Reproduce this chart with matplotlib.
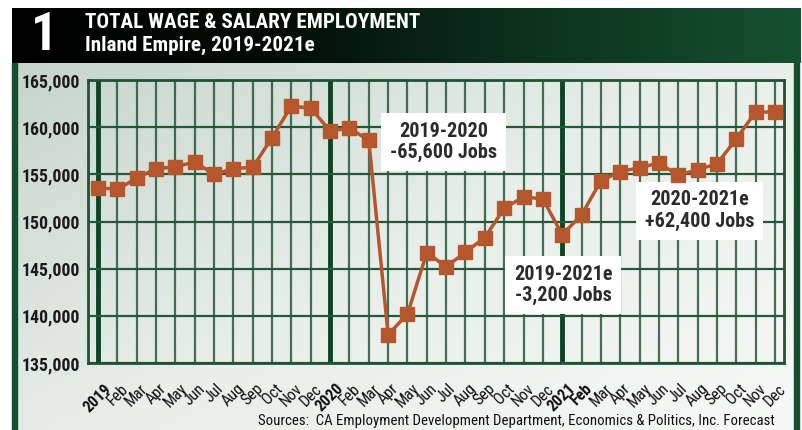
import numpy as np
import matplotlib
matplotlib.use("Agg")
import matplotlib.pyplot as plt
from matplotlib.patches import Rectangle
from matplotlib.colors import LinearSegmentedColormap
from matplotlib import font_manager

# ---- data ----
month_labels = ["2019", "Feb", "Mar", "Apr", "May", "Jun", "Jul", "Aug", "Sep", "Oct", "Nov", "Dec",
                "2020", "Feb", "Mar", "Apr", "May", "Jun", "Jul", "Aug", "Sep", "Oct", "Nov", "Dec",
                "2021", "Feb", "Mar", "Apr", "May", "Jun", "Jul", "Aug", "Sep", "Oct", "Nov", "Dec"]
bold_labels = {0, 12, 24, 25}
employment = [153600, 153400, 154600, 155600, 155800, 156300, 155000, 155600, 155750, 158900, 162250, 162000,
              159600, 159900, 158600, 138000, 140200, 146700, 145200, 146750, 148300, 151400, 152600, 152400,
              148600, 150700, 154300, 155300, 155700, 156200, 154900, 155500, 156100, 158750, 161600, 161600]
y_ticks = [135000, 140000, 145000, 150000, 155000, 160000, 165000]
title_num = "1"
title_line1 = "TOTAL WAGE & SALARY EMPLOYMENT"
title_line2 = "Inland Empire, 2019-2021e"
source_text = "Sources:  CA Employment Development Department, Economics & Politics, Inc. Forecast"
annotations = [("2019-2020\n-65,600 Jobs", 17.85, 158450),
               ("2019-2021e\n-3,200 Jobs", 24.05, 143300),
               ("2020-2021e\n+62,400 Jobs", 31.1, 151150)]

available = {f.name for f in font_manager.fontManager.ttflist}
cands = ["Roboto Condensed", "Liberation Sans Narrow", "Open Sans Condensed", "Noto Sans Condensed"]
narrow = [c for c in cands if c in available]
if narrow:
    NARROW = [narrow[0], "DejaVu Sans"]
    SCALE = 1.0
else:
    NARROW = ["Liberation Sans", "DejaVu Sans"]
    SCALE = 0.88

W, H = 802, 430
fig = plt.figure(figsize=(W / 100, H / 100), dpi=100)

# ---- background ----
bg = fig.add_axes([0, 0, 1, 1])
bg.set_xlim(0, W)
bg.set_ylim(H, 0)
bg.axis("off")
bg.add_patch(Rectangle((0, 0), W, H, color="white", zorder=0))
yy, xx = np.mgrid[0:100, 0:200]
grad = (xx / 199.0) * 0.55 + (yy / 99.0) * 0.45
body_cmap = LinearSegmentedColormap.from_list("body", ["#c6d5cb", "#e8eeea", "#f7f8f7"])
bg.imshow(grad, cmap=body_cmap, extent=(12, 799, 430, 63), aspect="auto", zorder=1)
hg = np.linspace(0, 1, 300)[None, :]
head_cmap = LinearSegmentedColormap.from_list("head", ["#000000", "#030d07", "#0c331c", "#14502e"])
bg.imshow(hg, cmap=head_cmap, extent=(12, 801, 63, 8), aspect="auto", zorder=2)
bg.add_patch(Rectangle((12, 63), 5, 367, color="#14502d", zorder=3))
bg.add_patch(Rectangle((794, 63), 5, 367, color="#14502d", zorder=3))
bg.text(44, 36, title_num, color="white", fontsize=38 * SCALE, fontweight="bold", family=NARROW,
        ha="center", va="center", zorder=4)
bg.text(85, 23, title_line1, color="white", fontsize=15.2 * SCALE, fontweight="bold", family=NARROW,
        ha="left", va="center", zorder=4)
bg.text(85, 45, title_line2, color="white", fontsize=15.2 * SCALE, fontweight="bold", family=NARROW,
        ha="left", va="center", zorder=4)
bg.text(775, 421, source_text, color="#111111", fontsize=10.7 * SCALE, family=NARROW,
        ha="right", va="center", zorder=4)

# ---- main plot ----
left, right, top, bottom = 88, 784, 80, 363
ax = fig.add_axes([left / W, 1 - bottom / H, (right - left) / W, (bottom - top) / H])
ax.patch.set_alpha(0)
x = np.arange(len(employment))
ax.set_xlim(-0.52, len(employment) - 1 + 0.47)
ax.set_ylim(135000, 165000)

grid_c = "#24583a"
for i in x:
    if i in (0, 12, 24):
        ax.axvline(i, color="#0d4523", lw=3.5, zorder=1)
    else:
        ax.axvline(i, color=grid_c, lw=1.6, alpha=0.85, zorder=1)
for yv in y_ticks:
    ax.axhline(yv, color=grid_c, lw=1.6, zorder=1)

for sp in ax.spines.values():
    sp.set_color("#1d5533")
    sp.set_linewidth(2)

ax.plot(x, employment, color="#b5562c", lw=2.5, marker="s", markersize=9.5,
        markerfacecolor="#b5562c", markeredgecolor="#b5562c", zorder=4)

for txt, xa, ya in annotations:
    ax.text(xa, ya, txt, ha="center", va="center", fontsize=14.5 * SCALE, fontweight="bold",
            family=NARROW, color="#2b2b2b", linespacing=1.15, zorder=3,
            bbox=dict(boxstyle="square,pad=0.45", fc="white", ec="none"))

ax.set_yticks(y_ticks)
ax.set_yticklabels([f"{v:,}" for v in y_ticks], fontsize=12.8 * SCALE, fontweight="bold",
                   family=NARROW, color="#1a1a1a")
ax.set_xticks(x)
ax.set_xticklabels(month_labels, rotation=45, ha="center", va="top", fontsize=11.5 * SCALE,
                   family=NARROW, color="#111111")
for i, lab in enumerate(ax.get_xticklabels()):
    if i in bold_labels:
        lab.set_fontweight("bold")
ax.tick_params(axis="both", length=0)
ax.tick_params(axis="y", pad=6)
ax.tick_params(axis="x", pad=13)

fig.savefig("out.png", dpi=100)
